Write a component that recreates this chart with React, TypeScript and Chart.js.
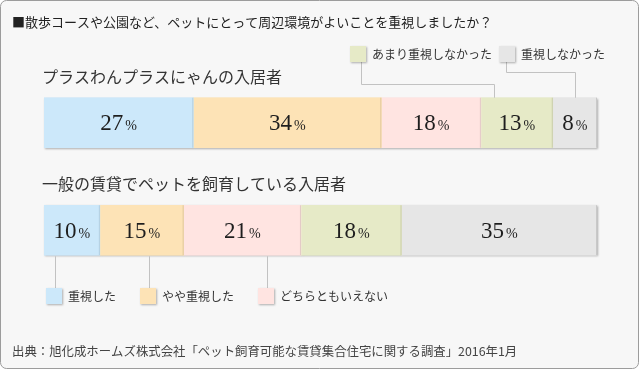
import React, { useEffect, useRef } from 'react';
import { Chart, registerables } from 'chart.js';

Chart.register(...registerables);

const titleText = '■散歩コースや公園など、ペットにとって周辺環境がよいことを重視しましたか？';
const sourceText = '出典：旭化成ホームズ株式会社「ペット飼育可能な賃貸集合住宅に関する調査」2016年1月';
const groups = ['プラスわんプラスにゃんの入居者', '一般の賃貸でペットを飼育している入居者'];
const answers = ['重視した', 'やや重視した', 'どちらともいえない', 'あまり重視しなかった', '重視しなかった'];
const valJuushi = [27, 10];
const valYaya = [34, 15];
const valDochira = [18, 21];
const valAmari = [13, 18];
const valNashi = [8, 35];
const seriesValues = [valJuushi, valYaya, valDochira, valAmari, valNashi];
const colors = ['#cce8fa', '#fde3b6', '#ffe4e1', '#e6eac7', '#e6e6e6'];
const edgeColors = ['#b3cfe0', '#e0c79c', '#e3c9c6', '#c9cdab', '#c8c8c8'];

const JP = '"Noto Sans CJK JP", "Noto Sans", sans-serif';
const SERIF = '"Liberation Serif", "DejaVu Serif", serif';

// legend layout (series index, box position, connector)
const topLegend = [
  { s: 3, x: 350, y: 46, lineX: 361, turnY: 84, anchor: 0.18 },
  { s: 4, x: 499, y: 46, lineX: 506, turnY: 72, anchor: 0.5 },
];
const bottomLegend = [
  { s: 0, x: 46, y: 288 },
  { s: 1, x: 140, y: 288 },
  { s: 2, x: 258, y: 288 },
];

// normalise each group to its own total so every bar spans the full width
const totals = groups.map((_, i) => seriesValues.reduce((a, v) => a + v[i], 0));
const normalised = seriesValues.map((vals) => vals.map((v, i) => (v / totals[i]) * 100));

function drawBox(ctx: CanvasRenderingContext2D, x: number, y: number, color: string) {
  ctx.save();
  ctx.shadowColor = 'rgba(0,0,0,0.3)';
  ctx.shadowBlur = 2;
  ctx.shadowOffsetX = 1;
  ctx.shadowOffsetY = 1;
  ctx.fillStyle = color;
  ctx.fillRect(x, y, 16, 16);
  ctx.restore();
}

const decoPlugin = {
  id: 'deco',
  beforeDraw(chart: any) {
    const ctx = chart.ctx as CanvasRenderingContext2D;
    ctx.save();
    ctx.beginPath();
    (ctx as any).roundRect(0.5, 0.5, 638, 368, 6);
    ctx.fillStyle = '#f7f7f7';
    ctx.fill();
    ctx.strokeStyle = '#9c9c9c';
    ctx.lineWidth = 1;
    ctx.stroke();
    ctx.restore();
  },
  beforeDatasetsDraw(chart: any) {
    const ctx = chart.ctx as CanvasRenderingContext2D;
    ctx.save();
    ctx.shadowColor = 'rgba(0,0,0,0.3)';
    ctx.shadowBlur = 2;
    ctx.shadowOffsetX = 1;
    ctx.shadowOffsetY = 1;
    chart.data.datasets.forEach((ds: any, s: number) => {
      const meta = chart.getDatasetMeta(s);
      meta.data.forEach((el: any) => {
        const p = el.getProps(['x', 'y', 'base', 'height'], true);
        ctx.fillStyle = colors[s];
        ctx.fillRect(p.base, p.y - p.height / 2, p.x - p.base, p.height);
      });
    });
    ctx.restore();
  },
  afterDatasetsDraw(chart: any) {
    const ctx = chart.ctx as CanvasRenderingContext2D;
    const metas = chart.data.datasets.map((_: any, s: number) => chart.getDatasetMeta(s));
    // right edges of segments
    ctx.save();
    metas.forEach((meta: any, s: number) => {
      meta.data.forEach((el: any) => {
        const p = el.getProps(['x', 'y', 'base', 'height'], true);
        ctx.fillStyle = edgeColors[s];
        ctx.fillRect(p.x - 1, p.y - p.height / 2, 1, p.height);
      });
    });
    ctx.restore();

    // value labels
    ctx.save();
    ctx.fillStyle = '#1e1e1e';
    ctx.textBaseline = 'alphabetic';
    metas.forEach((meta: any, s: number) => {
      meta.data.forEach((el: any, i: number) => {
        const p = el.getProps(['x', 'y', 'base'], true);
        const cx = (p.x + p.base) / 2;
        const num = String(seriesValues[s][i]);
        ctx.font = `23px ${SERIF}`;
        const w1 = ctx.measureText(num).width;
        ctx.font = `14px ${SERIF}`;
        const w2 = ctx.measureText('%').width;
        const start = cx - (w1 + 2 + w2) / 2;
        ctx.font = `23px ${SERIF}`;
        ctx.textAlign = 'left';
        ctx.fillText(num, start, p.y + 7.5);
        ctx.font = `14px ${SERIF}`;
        ctx.fillText('%', start + w1 + 2, p.y + 7.5);
      });
    });
    ctx.restore();

    // group titles
    ctx.save();
    ctx.fillStyle = '#333';
    ctx.font = `16px ${JP}`;
    ctx.textAlign = 'left';
    ctx.textBaseline = 'middle';
    groups.forEach((g, i) => {
      const el = metas[0].data[i];
      const p = el.getProps(['y', 'height'], true);
      ctx.fillText(g, 42, p.y - p.height / 2 - 21);
    });
    ctx.restore();

    // connectors & legends
    ctx.save();
    ctx.strokeStyle = '#c2c2c2';
    ctx.lineWidth = 1;
    topLegend.forEach((L) => {
      const el = metas[L.s].data[0];
      const p = el.getProps(['x', 'y', 'base', 'height'], true);
      const ax = Math.round(p.base + (p.x - p.base) * L.anchor) + 0.5;
      const top = p.y - p.height / 2;
      ctx.beginPath();
      ctx.moveTo(L.lineX + 0.5, L.y + 16);
      ctx.lineTo(L.lineX + 0.5, L.turnY + 0.5);
      ctx.lineTo(ax, L.turnY + 0.5);
      ctx.lineTo(ax, top);
      ctx.stroke();
    });
    bottomLegend.forEach((L) => {
      const el = metas[L.s].data[1];
      const p = el.getProps(['y', 'height'], true);
      const bottom = p.y + p.height / 2;
      const lx = L.x + 9.5;
      ctx.beginPath();
      ctx.moveTo(lx, bottom + 1);
      ctx.lineTo(lx, L.y);
      ctx.stroke();
    });
    ctx.restore();

    ctx.save();
    ctx.font = `12px ${JP}`;
    ctx.fillStyle = '#333';
    ctx.textAlign = 'left';
    ctx.textBaseline = 'middle';
    [...topLegend, ...bottomLegend].forEach((L) => {
      drawBox(ctx, L.x, L.y, colors[L.s]);
      ctx.fillStyle = '#333';
      ctx.fillText(answers[L.s], L.x + 22, L.y + 8);
    });
    ctx.restore();
  },
  afterDraw(chart: any) {
    const ctx = chart.ctx as CanvasRenderingContext2D;
    ctx.save();
    ctx.fillStyle = '#222';
    ctx.textAlign = 'left';
    ctx.textBaseline = 'middle';
    ctx.font = `13px ${JP}`;
    ctx.fillText(titleText, 12, 22);
    ctx.fillStyle = '#444';
    ctx.font = `12.4px ${JP}`;
    ctx.fillText(sourceText, 12, 351);
    ctx.restore();
  },
};

export default function App() {
  const ref = useRef<HTMLCanvasElement | null>(null);
  useEffect(() => {
    document.body.style.margin = '0';
    const canvas = ref.current;
    if (!canvas) return;
    const chart = new Chart(canvas, {
      type: 'bar',
      data: {
        labels: groups,
        datasets: answers.map((name, s) => ({
          label: name,
          data: normalised[s],
          backgroundColor: colors[s],
          borderWidth: 0,
          barThickness: 50,
        })),
      },
      options: {
        indexAxis: 'y',
        responsive: false,
        animation: false,
        devicePixelRatio: 1,
        layout: { padding: { left: 44, right: 43, top: 69, bottom: 86 } },
        scales: {
          x: { stacked: true, min: 0, max: 100, display: false },
          y: { stacked: true, display: false },
        },
        plugins: { legend: { display: false }, tooltip: { enabled: false } },
      },
      plugins: [decoPlugin],
    } as any);
    return () => chart.destroy();
  }, []);
  return <canvas ref={ref} width={640} height={370} style={{ display: 'block' }} />;
}
